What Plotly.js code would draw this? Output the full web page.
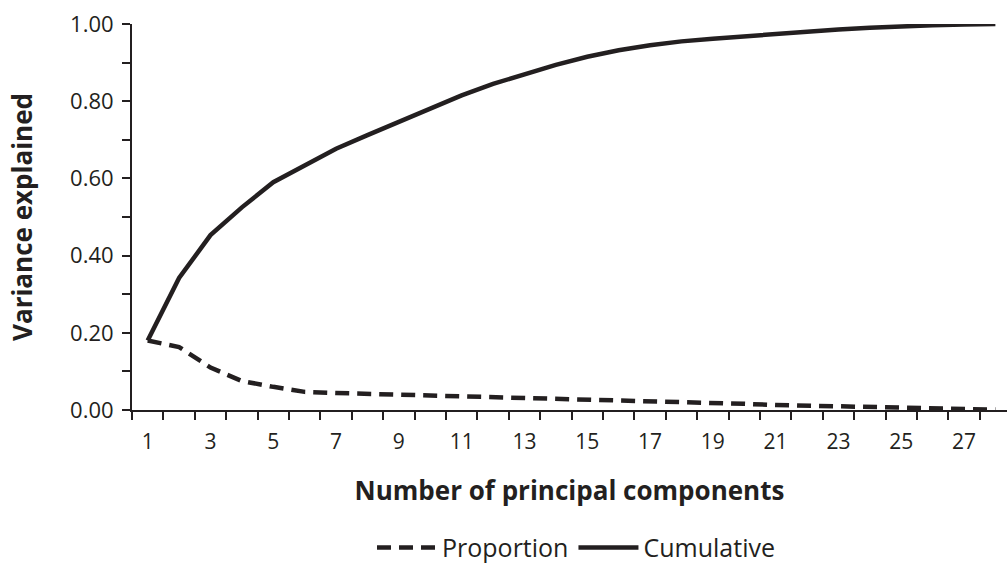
<!DOCTYPE html>
<html>
<head>
<meta charset="utf-8">
<script src="https://cdn.plot.ly/plotly-3.0.1.min.js"></script>
<style>html,body{margin:0;padding:0;background:#fff;}#chart{width:1007px;height:567px;}</style>
</head>
<body>
<div id="chart"></div>
<script>
const components = [1,2,3,4,5,6,7,8,9,10,11,12,13,14,15,16,17,18,19,20,21,22,23,24,25,26,27,28];
const proportion = [0.18,0.163,0.11,0.075,0.06,0.047,0.044,0.042,0.039,0.037,0.035,0.033,0.031,0.029,0.027,0.025,0.022,0.020,0.018,0.016,0.013,0.011,0.009,0.007,0.005,0.004,0.002,0.001];
const cumulative = [0.18,0.342,0.453,0.525,0.59,0.635,0.677,0.712,0.747,0.782,0.815,0.845,0.870,0.894,0.915,0.932,0.945,0.955,0.962,0.968,0.975,0.980,0.986,0.990,0.994,0.997,0.999,1.0];
const xTickVals = [1,3,5,7,9,11,13,15,17,19,21,23,25,27];
const yTickVals = [0,0.2,0.4,0.6,0.8,1.0];
const seriesNames = ["Proportion","Cumulative"];

const ink = "#231f20";
const font = "Open Sans, Noto Sans, sans-serif";

const traces = [
  {x: components, y: proportion, name: seriesNames[0], type: "scatter", mode: "lines",
   line: {color: ink, width: 4.5, dash: "14px,8px"}},
  {x: components, y: cumulative, name: seriesNames[1], type: "scatter", mode: "lines",
   line: {color: ink, width: 4.5}}
];

const layout = {
  width: 1007, height: 567,
  margin: {l: 132, r: 0, t: 24, b: 157, autoexpand: false},
  paper_bgcolor: "#fff", plot_bgcolor: "#fff",
  font: {family: font, color: ink, size: 21},
  showlegend: true,
  legend: {orientation: "h", x: 0.572, xanchor: "center", xref: "container",
           y: 0.034, yanchor: "middle", yref: "container",
           font: {size: 25, color: ink}, traceorder: "normal", itemwidth: 60},
  xaxis: {
    range: [0.5, 28.37], showgrid: false, zeroline: false,
    showline: true, linecolor: ink, linewidth: 2,
    tickmode: "array", tickvals: xTickVals, ticktext: xTickVals.map(String),
    ticks: "", ticklabelstandoff: 12,
    minor: {ticks: "outside", tick0: 0.5, dtick: 1, ticklen: 8, tickwidth: 2, tickcolor: ink, showgrid: false},
    tickfont: {size: 21, color: ink},
    title: {text: "<b>Number of principal components</b>", font: {size: 26, color: ink}, standoff: 28}
  },
  yaxis: {
    range: [0, 1.0], showgrid: false, zeroline: false,
    showline: true, linecolor: ink, linewidth: 2,
    tickmode: "array", tickvals: yTickVals, tickformat: ".2f",
    ticks: "outside", ticklen: 8, tickwidth: 2, tickcolor: ink,
    minor: {ticks: "outside", tick0: 0, dtick: 0.1, ticklen: 8, tickwidth: 2, tickcolor: ink, showgrid: false},
    tickfont: {size: 22, color: ink}, ticklabelstandoff: 4,
    title: {text: "<b>Variance explained</b>", font: {size: 26, color: ink}, standoff: 30}
  }
};

Plotly.newPlot("chart", traces, layout, {displayModeBar: false, staticPlot: true});
</script>
</body>
</html>
